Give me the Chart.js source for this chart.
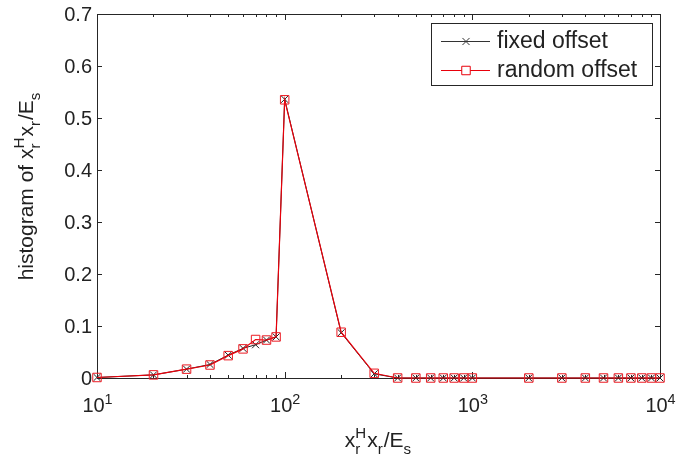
<!DOCTYPE html>
<html>
<head>
<meta charset="utf-8">
<script src="https://cdn.jsdelivr.net/npm/chart.js@4"></script>
<style>
  body { margin: 0; background: #fff; }
  #wrap { width: 677px; height: 466px; }
</style>
</head>
<body>
<div id="wrap"><canvas id="histChart" width="677" height="466"></canvas></div>
<script>
// x positions (log axis) and the two histograms
const xValues = [10, 20, 30, 40, 50, 60, 70, 80, 90, 100, 200, 300, 400, 500, 600, 700, 800, 900, 1000,
    2000, 3000, 4000, 5000, 6000, 7000, 8000, 9000, 10000];
const fixedOffset = [0.001, 0.006, 0.017, 0.026, 0.044, 0.057, 0.064, 0.073, 0.079, 0.536, 0.087, 0.008, 0, 0, 0, 0, 0, 0, 0,
    0, 0, 0, 0, 0, 0, 0, 0, 0];
const randomOffset = [0.001, 0.006, 0.017, 0.025, 0.043, 0.056, 0.074, 0.073, 0.079, 0.535, 0.088, 0.009, 0, 0, 0, 0, 0, 0, 0,
    0, 0, 0, 0, 0, 0, 0, 0, 0];
const seriesNames = ['fixed offset', 'random offset'];

// tick labels
const yTicks = [0, 0.1, 0.2, 0.3, 0.4, 0.5, 0.6, 0.7];
const yTickLabels = ['0', '0.1', '0.2', '0.3', '0.4', '0.5', '0.6', '0.7'];
const xDecades = [10, 100, 1000, 10000];
const xExponents = ['1', '2', '3', '4'];

const FONT = "'Liberation Sans', Arial, sans-serif";
const INK = '#222';

// draw text with sub/superscripts, parts like ['x', {sub:'r', sup:'H'}]
function richParts(ctx, parts, size) {
    const small = size * 0.72;
    let w = 0;
    const out = [];
    parts.forEach(p => {
        if (typeof p === 'string') {
            ctx.font = size + 'px ' + FONT;
            const pw = ctx.measureText(p).width;
            out.push({ t: p, dx: w, dy: 0, size });
            w += pw;
        } else {
            ctx.font = small + 'px ' + FONT;
            let pw = 0;
            if (p.sup) {
                out.push({ t: p.sup, dx: w, dy: -size * 0.42, size: small });
                pw = Math.max(pw, ctx.measureText(p.sup).width);
            }
            if (p.sub) {
                out.push({ t: p.sub, dx: w, dy: size * 0.32, size: small });
                pw = Math.max(pw, ctx.measureText(p.sub).width);
            }
            w += pw + 1;
        }
    });
    return { out, w };
}

function drawRich(ctx, parts, x, y, size, align) {
    const r = richParts(ctx, parts, size);
    let x0 = x;
    if (align === 'center') x0 = x - r.w / 2;
    else if (align === 'right') x0 = x - r.w;
    ctx.textAlign = 'left';
    ctx.textBaseline = 'alphabetic';
    r.out.forEach(o => {
        ctx.font = o.size + 'px ' + FONT;
        ctx.fillText(o.t, x0 + o.dx, y + o.dy);
    });
}

const axisTitle = ['x', { sub: 'r', sup: 'H' }, 'x', { sub: 'r' }, '/E', { sub: 's' }];

const matlabAxes = {
    id: 'matlabAxes',
    beforeDatasetsDraw(chart) {
        const ctx = chart.ctx;
        const a = chart.chartArea;
        const xs = chart.scales.x;
        const ys = chart.scales.y;
        ctx.save();
        ctx.strokeStyle = '#262626';
        ctx.lineWidth = 1;
        ctx.beginPath();
        ctx.rect(Math.round(a.left) + 0.5, Math.round(a.top) + 0.5,
            Math.round(a.right - a.left), Math.round(a.bottom - a.top));
        // y ticks, inward on both sides
        yTicks.forEach(v => {
            const py = Math.round(ys.getPixelForValue(v)) + 0.5;
            ctx.moveTo(a.left, py); ctx.lineTo(a.left + 5, py);
            ctx.moveTo(a.right, py); ctx.lineTo(a.right - 5, py);
        });
        // x ticks on the log axis: decades long, 2..9 short
        for (let d = 10; d <= 10000; d *= 10) {
            for (let k = 1; k <= 9; k++) {
                const v = d * k;
                if (v > 10000) break;
                const px = Math.round(xs.getPixelForValue(v)) + 0.5;
                const len = k === 1 ? 6 : 3;
                ctx.moveTo(px, a.bottom); ctx.lineTo(px, a.bottom - len);
                ctx.moveTo(px, a.top); ctx.lineTo(px, a.top + len);
            }
        }
        ctx.stroke();
        ctx.restore();
    },
    afterDraw(chart) {
        const ctx = chart.ctx;
        const a = chart.chartArea;
        const xs = chart.scales.x;
        const ys = chart.scales.y;
        ctx.save();
        ctx.fillStyle = INK;

        // y tick labels
        ctx.font = '20px ' + FONT;
        ctx.textAlign = 'right';
        ctx.textBaseline = 'middle';
        yTicks.forEach((v, i) => {
            ctx.fillText(yTickLabels[i], a.left - 5, ys.getPixelForValue(v) + 1);
        });

        // x tick labels 10^n
        xDecades.forEach((v, i) => {
            drawRich(ctx, ['10', { sup: xExponents[i] }], xs.getPixelForValue(v) + 1, a.bottom + 34, 20, 'center');
        });

        // axis titles
        drawRich(ctx, axisTitle, (a.left + a.right) / 2, 447, 21, 'center');
        ctx.save();
        ctx.translate(33, (a.top + a.bottom) / 2 - 10);
        ctx.rotate(-Math.PI / 2);
        drawRich(ctx, ['histogram of '].concat(axisTitle), 0, 0, 21, 'center');
        ctx.restore();

        // legend box
        const lx = 431, ly = 23, lw = 221, lh = 62;
        ctx.fillStyle = '#fff';
        ctx.fillRect(lx, ly, lw, lh);
        ctx.strokeStyle = '#262626';
        ctx.lineWidth = 1;
        ctx.strokeRect(lx + 0.5, ly + 0.5, lw, lh);
        const rows = [
            { name: seriesNames[0], color: '#333', style: 'crossRot', r: 5 },
            { name: seriesNames[1], color: '#e8000b', style: 'rect', r: 6 }
        ];
        rows.forEach((row, i) => {
            const y = ly + 18 + i * 29;
            ctx.strokeStyle = row.color;
            ctx.lineWidth = 1;
            ctx.beginPath();
            ctx.moveTo(441, y + 0.5); ctx.lineTo(490, y + 0.5);
            ctx.stroke();
            // white inside the square, as in the reference
            ctx.fillStyle = '#fff';
            Chart.helpers.drawPoint(ctx, { pointStyle: row.style, radius: row.r, borderWidth: 1 }, 466, y + 0.5);
            ctx.fillStyle = INK;
            ctx.font = '23px ' + FONT;
            ctx.textAlign = 'left';
            ctx.textBaseline = 'middle';
            ctx.fillText(row.name, 497, y + 1);
        });
        ctx.restore();
    }
};

const ctx = document.getElementById('histChart').getContext('2d');
new Chart(ctx, {
    type: 'line',
    data: {
        datasets: [{
            label: seriesNames[0],
            data: xValues.map((x, i) => ({ x: x, y: fixedOffset[i] })),
            borderColor: '#222',
            backgroundColor: 'transparent',
            borderWidth: 1,
            pointStyle: 'crossRot',
            pointRadius: 5,
            pointBorderColor: '#222',
            pointBorderWidth: 1,
            tension: 0,
            clip: false,
            order: 2
        }, {
            label: seriesNames[1],
            data: xValues.map((x, i) => ({ x: x, y: randomOffset[i] })),
            borderColor: '#e8000b',
            backgroundColor: 'transparent',
            borderWidth: 1.2,
            pointStyle: 'rect',
            pointRadius: 6,
            pointBorderColor: '#ec1c24',
            pointBackgroundColor: 'transparent',
            pointBorderWidth: 1,
            tension: 0,
            clip: false,
            order: 1
        }]
    },
    options: {
        responsive: false,
        animation: false,
        layout: { padding: { left: 97, right: 17, top: 14, bottom: 88 } },
        scales: {
            x: { type: 'logarithmic', min: 10, max: 10000, display: false },
            y: { type: 'linear', min: 0, max: 0.7, display: false }
        },
        plugins: {
            legend: { display: false },
            tooltip: { enabled: false }
        }
    },
    plugins: [matlabAxes]
});
</script>
</body>
</html>
